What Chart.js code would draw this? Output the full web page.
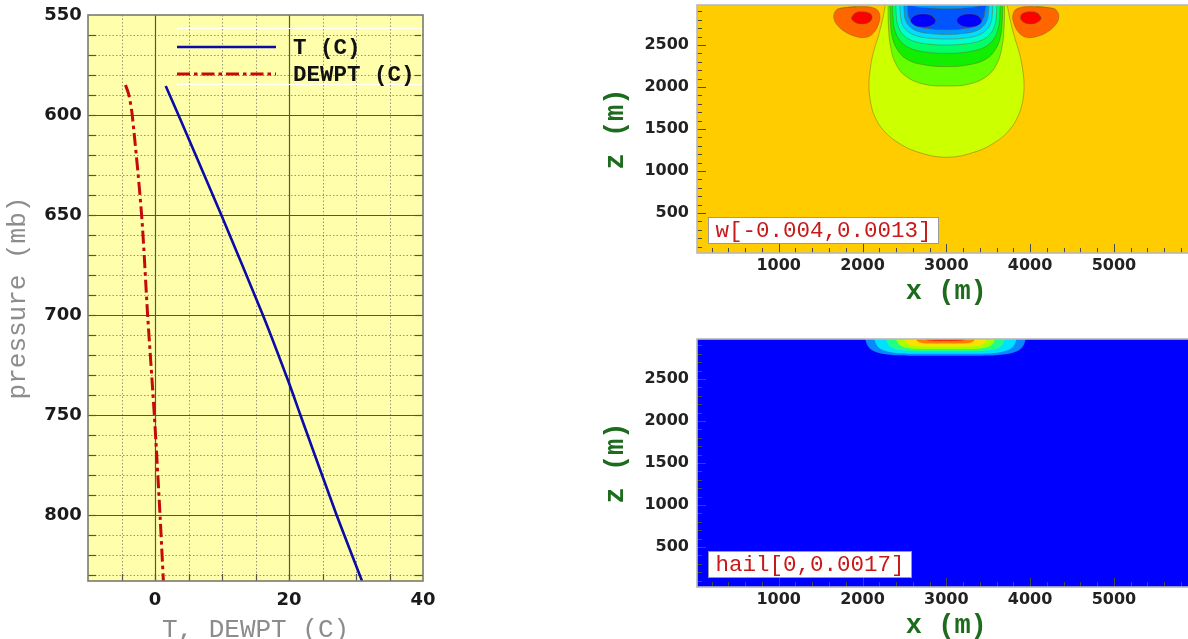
<!DOCTYPE html>
<html>
<head>
<meta charset="utf-8">
<script src="https://cdn.jsdelivr.net/npm/chart.js@4.4.1/dist/chart.umd.min.js"></script>
<style>
  html, body { margin: 0; padding: 0; background: #fff; overflow: hidden; width: 1188px; height: 639px; }
  canvas { position: absolute; }
</style>
</head>
<body>
<canvas id="sounding" width="440" height="660" style="left:0;top:0"></canvas>
<canvas id="wField" width="610" height="310" style="left:600px;top:0"></canvas>
<canvas id="hailField" width="610" height="310" style="left:600px;top:334px"></canvas>
<script>
// ---- Sounding profile: pressure (mb) vs temperature / dew point (C) ----
const pressureT   = [585.5, 600, 650, 700, 734, 750, 800, 833];
const temperature = [1.6, 3.5, 9.9, 16.1, 20.0, 21.7, 27.1, 30.9];
const pressureTd  = [585, 590, 600, 650, 700, 750, 800, 833];
const dewpoint    = [-4.4, -3.9, -3.4, -2.0, -1.1, -0.1, 0.75, 1.25];
const pressureTicks = [550, 600, 650, 700, 750, 800];
const tempTicks     = [0, 20, 40];

// ---- Cross-section axes (m) ----
const xTicks = [1000, 2000, 3000, 4000, 5000];
const zTicks = [500, 1000, 1500, 2000, 2500];

// ---- Vertical velocity w: filled contour outlines, [x, z] in metres ----
const wRange = [-0.004, 0.0013];
const wBulb  = [[2274,2975],[2238,2797],[2187,2598],[2127,2400],[2091,2202],[2077,2004],[2099,1806],[2147,1647],[2246,1489],[2405,1350],[2644,1231],[3000,1163],[3356,1231],[3595,1350],[3754,1489],[3853,1647],[3906,1806],[3928,2004],[3912,2202],[3873,2400],[3813,2598],[3762,2797],[3726,2975]];
const wBand2 = [[2305,2975],[2310,2720],[2335,2480],[2395,2280],[2515,2130],[2725,2035],[3000,2012],[3275,2035],[3485,2130],[3605,2280],[3665,2480],[3690,2720],[3695,2975]];
const wBand3 = [[2326,2975],[2333,2777],[2353,2601],[2414,2447],[2528,2330],[2730,2264],[3000,2242],[3270,2264],[3472,2330],[3586,2447],[3647,2601],[3667,2777],[3674,2975]];
const wBand4 = [[2358,2975],[2364,2820],[2384,2682],[2441,2561],[2551,2469],[2743,2417],[3000,2400],[3257,2417],[3449,2469],[3559,2561],[3616,2682],[3636,2820],[3642,2975]];
const wBand5 = [[2397,2975],[2403,2846],[2421,2732],[2475,2632],[2578,2556],[2759,2513],[3000,2499],[3241,2513],[3422,2556],[3525,2632],[3579,2732],[3597,2846],[3603,2975]];
const wBand6 = [[2445,2975],[2451,2866],[2467,2768],[2517,2683],[2611,2619],[2778,2582],[3000,2570],[3222,2582],[3389,2619],[3483,2683],[3533,2768],[3549,2866],[3555,2975]];
const wBand7 = [[2493,2975],[2498,2880],[2513,2796],[2559,2723],[2645,2667],[2797,2636],[3000,2625],[3203,2636],[3355,2667],[3441,2723],[3487,2796],[3502,2880],[3507,2975]];
const wBand8 = [[2535,2975],[2540,2895],[2554,2825],[2595,2763],[2674,2715],[2814,2689],[3000,2680],[3186,2689],[3326,2715],[3405,2763],[3446,2825],[3460,2895],[3465,2975],[3300,2945],[3000,2930],[2700,2945]];
const wCoreL = [[2875,2790],[2831,2846],[2725,2869],[2619,2846],[2575,2790],[2619,2734],[2725,2711],[2831,2734],[2875,2790],[2831,2846]];
const wCoreR = [[3425,2790],[3381,2846],[3275,2869],[3169,2846],[3125,2790],[3169,2734],[3275,2711],[3381,2734],[3425,2790],[3381,2846]];
const wUpL   = [[1729,2935],[1928,2955],[2147,2935],[2206,2856],[2187,2737],[2127,2638],[2047,2591],[1928,2598],[1789,2658],[1689,2749],[1657,2836],[1681,2908],[1729,2935],[1928,2955]];
const wUpR   = [[4271,2935],[4072,2955],[3853,2935],[3794,2856],[3813,2737],[3873,2638],[3953,2591],[4072,2598],[4211,2658],[4311,2749],[4343,2836],[4319,2908],[4271,2935],[4072,2955]];
const wPeakL = [[1868,2816],[1908,2876],[1988,2896],[2087,2876],[2115,2828],[2087,2777],[2007,2749],[1920,2765],[1868,2816],[1908,2876]];
const wPeakR = [[4132,2816],[4092,2876],[4012,2896],[3913,2876],[3885,2828],[3913,2777],[3993,2749],[4080,2765],[4132,2816],[4092,2876]];

// ---- Hail mixing ratio: filled contour outlines, [x, z] in metres ----
const hailRange = [0, 0.0017];
const hail1 = [[2030,2975],[2068,2885],[2145,2826],[2299,2790],[2558,2776],[2990,2776],[3422,2776],[3681,2790],[3835,2826],[3912,2885],[3950,2975]];
const hail2 = [[2140,2975],[2174,2896],[2242,2844],[2378,2812],[2607,2800],[2990,2800],[3373,2800],[3602,2812],[3738,2844],[3806,2896],[3840,2975]];
const hail3 = [[2280,2975],[2308,2910],[2365,2866],[2479,2840],[2670,2830],[2990,2830],[3310,2830],[3501,2840],[3615,2866],[3672,2910],[3700,2975]];
const hail4 = [[2400,2975],[2424,2921],[2471,2885],[2565,2863],[2724,2855],[2990,2855],[3256,2855],[3415,2863],[3509,2885],[3556,2921],[3580,2975]];
const hail5 = [[2500,2975],[2520,2935],[2559,2908],[2637,2891],[2769,2885],[2990,2885],[3211,2885],[3343,2891],[3421,2908],[3460,2935],[3480,2975]];
const hail6 = [[2640,2975],[2654,2950],[2682,2934],[2738,2924],[2832,2920],[2990,2920],[3148,2920],[3242,2924],[3298,2934],[3326,2950],[3340,2975]];
const hail7 = [[2760,2975],[2769,2964],[2788,2956],[2886,2950],[2990,2950],[3094,2950],[3192,2956],[3211,2964],[3220,2975]];

// ---------------------------------------------------------------------
const monoFamily = '"Liberation Mono", "DejaVu Sans Mono", monospace';
const tickFontL = { family: 'DejaVu Sans', weight: 'bold', size: 18 };
const tickFontR = { family: 'DejaVu Sans', weight: 'bold', size: 16 };
const axisGreen = '#1d6b1d';
const plainNumber = v => String(v);

function hline(ctx, x0, x1, y) { ctx.beginPath(); ctx.moveTo(x0, y); ctx.lineTo(x1, y); ctx.stroke(); }
function vline(ctx, x, y0, y1) { ctx.beginPath(); ctx.moveTo(x, y0); ctx.lineTo(x, y1); ctx.stroke(); }
const crisp = v => Math.round(v) + 0.5;
const fixedTicks = list => s => { s.ticks = list.map(v => ({ value: v })); };
const noGrid = { display: false, drawTicks: false, tickLength: 0 };
// fixed axis band sizes; labels may overhang the plot edges freely
const fitX = h => s => { s.height = h; s.paddingLeft = 0; s.paddingRight = 0; };
const fitY = w => s => { s.width = w; s.paddingTop = 0; s.paddingBottom = 0; };

// Frame, grid and legend of the sounding diagram
const soundingFrame = {
  id: 'soundingFrame',
  beforeDraw(chart) {
    const { ctx, chartArea: a } = chart;
    ctx.save();
    ctx.fillStyle = '#ffffab';
    ctx.fillRect(a.left, a.top, a.right - a.left, a.bottom - a.top);
    ctx.restore();
  },
  beforeDatasetsDraw(chart) {
    const { ctx, chartArea: a, scales: { x, y } } = chart;
    ctx.save();
    ctx.strokeStyle = 'rgba(105,105,95,0.7)';
    ctx.lineWidth = 1;
    ctx.setLineDash([1.5, 2]);
    for (let t = x.min + 5; t < x.max; t += 5) {
      if (t % 20 === 0) continue;
      vline(ctx, crisp(x.getPixelForValue(t)), a.top, a.bottom);
    }
    for (let p = y.min + 10; p < y.max; p += 10) {
      if (p % 50 === 0) continue;
      hline(ctx, a.left, a.right, crisp(y.getPixelForValue(p)));
    }
    ctx.setLineDash([]);
    ctx.strokeStyle = '#55554a';
    ctx.lineWidth = 1.2;
    tempTicks.forEach(t => { if (t > x.min && t < x.max) vline(ctx, crisp(x.getPixelForValue(t)), a.top, a.bottom); });
    pressureTicks.forEach(p => { if (p > y.min && p < y.max) hline(ctx, a.left, a.right, crisp(y.getPixelForValue(p))); });
    ctx.restore();
  },
  afterDatasetsDraw(chart) {
    const { ctx, chartArea: a, scales: { x, y } } = chart;
    ctx.save();
    // inward tick marks
    ctx.strokeStyle = '#55554a';
    ctx.lineWidth = 1.2;
    for (let p = y.min + 10; p < y.max; p += 10) {
      const py = crisp(y.getPixelForValue(p));
      hline(ctx, a.left, a.left + 8, py);
      hline(ctx, a.right - 8, a.right, py);
    }
    for (let t = x.min + 5; t < x.max; t += 5) {
      vline(ctx, crisp(x.getPixelForValue(t)), a.bottom - 7, a.bottom);
    }
    // plot border
    ctx.strokeStyle = '#7a7a72';
    ctx.lineWidth = 1.6;
    ctx.strokeRect(a.left, a.top, a.right - a.left, a.bottom - a.top);
    // legend
    const bx = a.left + 89, by = a.top + 13, bw = 244, bh = 56;
    ctx.strokeStyle = 'rgba(255,255,255,0.95)';
    ctx.lineWidth = 1;
    ctx.strokeRect(bx + 0.5, by + 0.5, bw, bh);
    ctx.font = 'bold 22.5px ' + monoFamily;
    ctx.textBaseline = 'middle';
    ctx.textAlign = 'left';
    chart.data.datasets.forEach((ds, i) => {
      const ly = by + 19 + 27 * i;
      ctx.strokeStyle = ds.borderColor;
      ctx.lineWidth = ds.borderWidth;
      ctx.setLineDash(ds.borderDash || []);
      hline(ctx, bx, bx + 99, ly);
      ctx.setLineDash([]);
      ctx.fillStyle = '#111';
      ctx.fillText(ds.label, bx + 116, ly + 1);
    });
    ctx.restore();
  }
};

new Chart(document.getElementById('sounding'), {
  type: 'line',
  data: {
    datasets: [
      { label: 'T (C)', data: pressureT.map((p, i) => ({ x: temperature[i], y: p })),
        borderColor: '#0b0ba8', borderWidth: 2.6, pointRadius: 0, tension: 0.2, fill: false },
      { label: 'DEWPT (C)', data: pressureTd.map((p, i) => ({ x: dewpoint[i], y: p })),
        borderColor: '#c40a0a', borderWidth: 3, borderDash: [13, 4, 3.5, 4], pointRadius: 0, tension: 0.3, fill: false }
    ]
  },
  options: {
    responsive: false, animation: false, events: [],
    layout: { padding: { left: 0, top: 15, right: 17, bottom: 0 } },
    plugins: { legend: { display: false }, tooltip: { enabled: false } },
    scales: {
      x: {
        type: 'linear', min: -10, max: 40,
        afterFit: fitX(79),
        afterBuildTicks: fixedTicks(tempTicks),
        grid: noGrid, border: { display: false },
        ticks: { padding: 8.5, color: '#1a1a1a', font: tickFontL, maxRotation: 0, autoSkip: false, callback: plainNumber },
        title: { display: true, text: 'T, DEWPT (C)', color: '#8c8c8c',
                 font: { family: monoFamily, size: 26 }, padding: { top: 0, bottom: 14.4 } }
      },
      y: {
        type: 'linear', reverse: true, min: 550, max: 833,
        afterFit: fitY(88),
        afterBuildTicks: fixedTicks(pressureTicks),
        grid: noGrid, border: { display: false },
        ticks: { padding: 6.3, color: '#1a1a1a', font: tickFontL, autoSkip: false, callback: plainNumber },
        title: { display: true, text: 'pressure (mb)', color: '#8c8c8c',
                 font: { family: monoFamily, size: 26 }, padding: { top: 2.4, bottom: 0 } }
      }
    }
  },
  plugins: [soundingFrame]
});

// Frame, inward ticks and field label of a cross-section panel
const fieldFrame = {
  id: 'fieldFrame',
  beforeDraw(chart, args, opts) {
    const { ctx, chartArea: a } = chart;
    ctx.save();
    ctx.fillStyle = opts.background;
    ctx.fillRect(a.left, a.top, a.right - a.left, a.bottom - a.top);
    ctx.restore();
  },
  afterDatasetsDraw(chart, args, opts) {
    const { ctx, chartArea: a, scales: { x, y } } = chart;
    ctx.save();
    ctx.strokeStyle = '#4a4a4a';
    ctx.lineWidth = 1;
    for (let v = 200; v < x.max; v += 200) {
      const len = v % 1000 === 0 ? 9 : 5;
      vline(ctx, crisp(x.getPixelForValue(v)), a.bottom - len, a.bottom);
    }
    for (let v = 100; v < y.max; v += 100) {
      const len = v % 500 === 0 ? 9 : 5;
      hline(ctx, a.left, a.left + len, crisp(y.getPixelForValue(v)));
    }
    ctx.strokeStyle = '#b8b8b8';
    ctx.lineWidth = 1.6;
    ctx.strokeRect(a.left, a.top, a.right - a.left, a.bottom - a.top);
    // field name with its range
    ctx.font = '22.5px ' + monoFamily;
    const tw = ctx.measureText(opts.label).width;
    const left = Math.round(a.left + 11) + 0.5, bottom = Math.round(a.bottom - 10) + 0.5;
    const h = 26, w = Math.round(tw + 14);
    ctx.fillStyle = '#ffffff';
    ctx.fillRect(left, bottom - h, w, h);
    ctx.strokeStyle = '#9a9a9a';
    ctx.lineWidth = 1;
    ctx.strokeRect(left, bottom - h, w, h);
    ctx.fillStyle = '#c81818';
    ctx.textBaseline = 'middle';
    ctx.textAlign = 'left';
    ctx.fillText(opts.label, left + 7, bottom - h / 2 + 1);
    ctx.restore();
  }
};

function region(points, color, edge) {
  return {
    data: points.map(([x, z]) => ({ x, y: z })),
    backgroundColor: color,
    borderColor: edge || 'rgba(0,0,0,0)',
    borderWidth: edge ? 1 : 0,
    fill: 'shape', tension: 0.4, pointRadius: 0
  };
}

function fieldChart(id, background, regions, name, range) {
  return new Chart(document.getElementById(id), {
    type: 'line',
    data: { datasets: regions.map((r, i) => ({ ...r, order: regions.length - i })) },
    options: {
      responsive: false, animation: false, events: [],
      layout: { padding: { left: 0, top: 5, right: 14.4, bottom: 0 } },
      plugins: {
        legend: { display: false }, tooltip: { enabled: false },
        fieldFrame: { background, label: name + '[' + range[0] + ',' + range[1] + ']' }
      },
      scales: {
        x: {
          type: 'linear', min: 25, max: 5975,
          afterFit: fitX(57),
          afterBuildTicks: fixedTicks(xTicks),
          grid: noGrid, border: { display: false },
          ticks: { padding: 3.1, color: '#222', font: tickFontR, maxRotation: 0, autoSkip: false, callback: plainNumber },
          title: { display: true, text: 'x (m)', color: axisGreen,
                   font: { family: monoFamily, size: 27, weight: 'bold' }, padding: { top: 0, bottom: 1.4 } }
        },
        y: {
          type: 'linear', min: 25, max: 2975,
          afterFit: fitY(97),
          afterBuildTicks: fixedTicks(zTicks),
          grid: noGrid, border: { display: false },
          ticks: { padding: 8, color: '#222', font: tickFontR, autoSkip: false, callback: plainNumber },
          title: { display: true, text: 'z (m)', color: axisGreen,
                   font: { family: monoFamily, size: 27, weight: 'bold' }, padding: { top: 0, bottom: 0 } }
        }
      }
    },
    plugins: [fieldFrame]
  });
}

const edge = 'rgba(110,100,30,0.45)';
fieldChart('wField', '#ffcc00', [
  region(wBulb, '#ccff00', edge),
  region(wBand2, '#66ff00', edge),
  region(wBand3, '#11ee00', edge),
  region(wBand4, '#00ff66', edge),
  region(wBand5, '#00ffcc', edge),
  region(wBand6, '#00ddff', edge),
  region(wBand7, '#0099ff', edge),
  region(wBand8, '#0055ff', edge),
  region(wCoreL, '#0000ff', edge),
  region(wCoreR, '#0000ff', edge),
  region(wUpL, '#ff6600', edge),
  region(wUpR, '#ff6600', edge),
  region(wPeakL, '#ff0000', edge),
  region(wPeakR, '#ff0000', edge)
], 'w', wRange);

fieldChart('hailField', '#0000ff', [
  region(hail1, '#0a88ff'),
  region(hail2, '#00e0ff'),
  region(hail3, '#22ff88'),
  region(hail4, '#a6ff00'),
  region(hail5, '#ffe000'),
  region(hail6, '#ff8000'),
  region(hail7, '#ff2a00')
], 'hail', hailRange);
</script>
</body>
</html>
